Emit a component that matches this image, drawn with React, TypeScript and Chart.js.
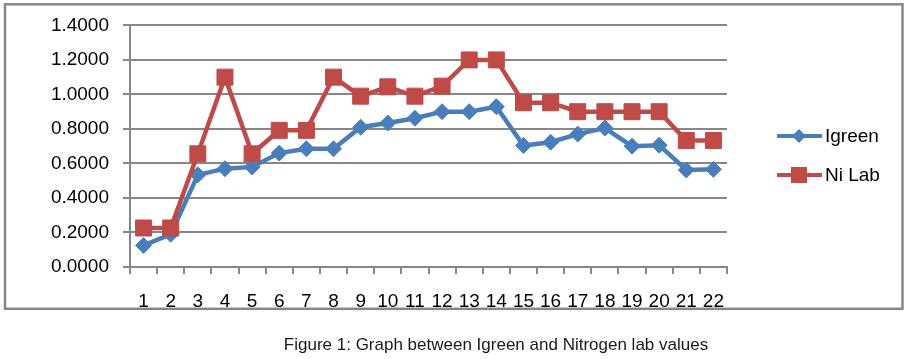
import React, { useEffect, useRef } from "react";
import { Chart, registerables } from "chart.js";

Chart.register(...registerables);

const categories = ["1","2","3","4","5","6","7","8","9","10","11","12","13","14","15","16","17","18","19","20","21","22"];
const igreen = [0.125, 0.19, 0.534, 0.57, 0.58, 0.66, 0.685, 0.685, 0.81, 0.834, 0.862, 0.9, 0.9, 0.929, 0.704, 0.723, 0.77, 0.805, 0.7, 0.706, 0.562, 0.566];
const niLab = [0.226, 0.226, 0.656, 1.1, 0.656, 0.792, 0.792, 1.1, 0.99, 1.044, 0.99, 1.048, 1.2, 1.2, 0.952, 0.952, 0.9, 0.9, 0.9, 0.9, 0.733, 0.733];
const seriesNames = ["Igreen", "Ni Lab"];
const caption = "Figure 1: Graph between Igreen and Nitrogen lab values";

const BLUE = "#4A7EBB";
const RED = "#BE4B48";
const GRID = "#878787";
const FONT = "'Liberation Sans', Arial, sans-serif";

const framePlugin = {
  id: "frame",
  afterDraw(chart: any) {
    const ctx = chart.ctx;
    ctx.save();
    // outer border
    ctx.strokeStyle = GRID;
    ctx.lineWidth = 2.5;
    ctx.strokeRect(5, 4.3, 897.5, 304.5);
    // legend
    const items = [
      { name: seriesNames[0], color: BLUE, y: 136, shape: "diamond" },
      { name: seriesNames[1], color: RED, y: 175, shape: "square" },
    ];
    for (const it of items) {
      ctx.strokeStyle = it.color;
      ctx.lineWidth = 4;
      ctx.beginPath();
      ctx.moveTo(777, it.y);
      ctx.lineTo(822, it.y);
      ctx.stroke();
      ctx.fillStyle = it.color;
      ctx.beginPath();
      if (it.shape === "diamond") {
        const r = 7;
        ctx.moveTo(799, it.y - r);
        ctx.lineTo(799 + r, it.y);
        ctx.lineTo(799, it.y + r);
        ctx.lineTo(799 - r, it.y);
        ctx.closePath();
      } else {
        ctx.rect(799 - 8, it.y - 8, 16, 16);
      }
      ctx.fill();
      ctx.fillStyle = "#000";
      ctx.font = "19px " + FONT;
      ctx.textAlign = "left";
      ctx.textBaseline = "middle";
      ctx.fillText(it.name, 825, it.y + 1);
    }
    // caption
    ctx.fillStyle = "#1a1a1a";
    ctx.font = "17px " + FONT;
    ctx.textAlign = "center";
    ctx.textBaseline = "middle";
    ctx.fillText(caption, 496, 345);
    ctx.restore();
  },
};

export default function App() {
  const ref = useRef<HTMLCanvasElement | null>(null);
  useEffect(() => {
    if (!ref.current) return;
    const chart = new Chart(ref.current, {
      type: "line",
      data: {
        labels: categories,
        datasets: [
          {
            label: seriesNames[0],
            data: igreen,
            borderColor: BLUE,
            backgroundColor: BLUE,
            borderWidth: 4.5,
            pointStyle: "rectRot",
            pointRadius: 8,
            pointBorderWidth: 1,
            pointBackgroundColor: BLUE,
            pointBorderColor: BLUE,
            tension: 0,
            order: 2,
          },
          {
            label: seriesNames[1],
            data: niLab,
            borderColor: RED,
            backgroundColor: RED,
            borderWidth: 4.5,
            pointStyle: "rect",
            pointRadius: 11.3,
            pointBorderWidth: 1,
            pointBackgroundColor: RED,
            pointBorderColor: RED,
            tension: 0,
            order: 1,
          },
        ],
      },
      options: {
        responsive: false,
        animation: false,
        devicePixelRatio: 1,
        layout: { padding: { left: 0, top: 23, right: 181, bottom: 49 } },
        plugins: {
          legend: { display: false },
          tooltip: { enabled: false },
          title: { display: false },
        },
        scales: {
          x: {
            offset: true,
            grid: {
              offset: true,
              drawOnChartArea: false,
              drawTicks: true,
              tickLength: 7,
              color: GRID,
              lineWidth: 2,
            },
            border: { display: true, color: GRID, width: 2 },
            ticks: {
              color: "#000",
              font: { family: FONT, size: 19 },
              padding: 16,
              maxRotation: 0,
              autoSkip: false,
            },
            afterFit: (scale: any) => {
              scale.height = 43;
            },
          },
          y: {
            min: 0,
            max: 1.4,
            grid: {
              color: GRID,
              lineWidth: 2,
              drawTicks: true,
              tickLength: 7,
            },
            border: { display: true, color: GRID, width: 2 },
            ticks: {
              stepSize: 0.2,
              color: "#000",
              font: { family: FONT, size: 19 },
              padding: 14,
              callback: (v: any) => Number(v).toFixed(4),
            },
            afterFit: (scale: any) => {
              scale.width = 130;
            },
          },
        },
      },
      plugins: [framePlugin],
    });
    return () => chart.destroy();
  }, []);
  return (
    <div style={{ position: "fixed", left: 0, top: 0, width: 908, height: 359, background: "#fff" }}>
      <canvas ref={ref} width={908} height={359} />
    </div>
  );
}
